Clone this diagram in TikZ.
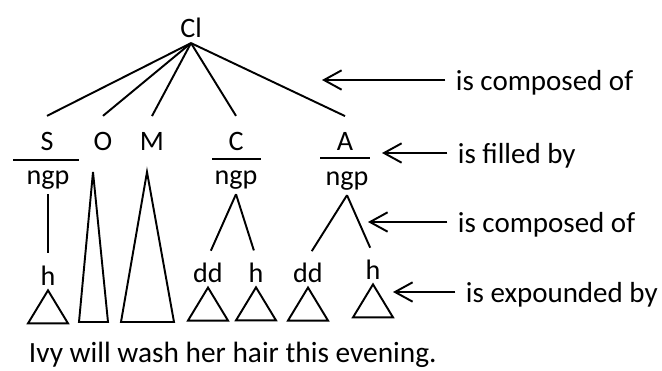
\documentclass[tikz,border=0pt]{standalone}
\usepackage{fontspec}
\setmainfont{Carlito}
\usetikzlibrary{arrows.meta}

% small triangle hanging under a leaf
\newcommand{\leaftri}[1]{\draw (#1.south) -- ++(-20,-33) -- ++(40,0) -- cycle;}

\begin{document}
\begin{tikzpicture}[x=0.02cm, y=0.02cm, line width=1.1pt,
    lab/.style={font=\fontsize{16}{18}\selectfont, anchor=base, inner xsep=0pt},
    func/.style={lab, inner ysep=8.5pt},
    unit/.style={lab, inner ysep=2.5pt},
    leaf/.style={lab, inner ysep=2.5pt},
    note/.style={font=\fontsize{16.5}{19}\selectfont, anchor=west, inner sep=0pt, text depth=0pt},
    arr/.style={-{Straight Barb[length=10pt,width=11pt]}, shorten <=5.5pt},
    sent/.style={font=\fontsize{16.7}{20}\selectfont, anchor=base west, inner sep=0pt}]
  \useasboundingbox (0,0) rectangle (662,370);

  % clause and its functions
  \node[lab, inner sep=2.8pt] (cl) at (191,333) {Cl};
  \node[func] (s) at (47,220) {S};
  \node[func] (o) at (103,220) {O};
  \node[func] (m) at (152,220) {M};
  \node[func] (c) at (236,220) {C};
  \node[func] (a) at (345,220) {A};
  \foreach \f in {s,o,m,c,a}
    \draw (cl.south) -- (\f.north);

  % fillers
  \draw (13,210) -- (79,210);
  \draw (212,211) -- (261,211);
  \draw (320,212) -- (370,212);
  \node[unit] (sngp) at (48,186) {ngp};
  \node[unit] (cngp) at (236,186) {ngp};
  \node[unit] (angp) at (347,185) {ngp};

  % heads and determiners
  \node[leaf] (sh) at (48,85) {h};
  \node[leaf] (cdd) at (208,88) {dd};
  \node[leaf] (ch) at (256,88) {h};
  \node[leaf] (add) at (308,88) {dd};
  \node[leaf] (ah) at (373,91) {h};
  \draw[shorten >=4pt] (sngp.south) -- (sh.north);
  \draw[shorten >=4pt] (cngp.south) -- (cdd.north);
  \draw[shorten >=4pt] (cngp.south) -- (ch.north);
  \draw[shorten >=4pt] (angp.south) -- (add.north);
  \draw[shorten >=4pt] (angp.south) -- (ah.north);

  % words
  \draw (93,198) -- (79,48) -- (108,48) -- cycle;
  \draw (147,198) -- (121,48) -- (174,48) -- cycle;
  \foreach \l in {sh,cdd,ch,add,ah}
    {\leaftri{\l}}

  \node[sent] (ex) at (28,8) {Ivy will wash her hair this evening.};

  % relations
  \coordinate (t1) at (322,290);
  \coordinate (t2) at (382,217);
  \coordinate (t3) at (368,148);
  \coordinate (t4) at (393,78);
  \node[note] (comp1) at (455,290) {is composed of};
  \node[note] (fill) at (457,217) {is filled by};
  \node[note] (comp2) at (457,148) {is composed of};
  \node[note] (expo) at (465,78) {is expounded by};
  \draw[arr] (comp1) -- (t1);
  \draw[arr] (fill) -- (t2);
  \draw[arr] (comp2) -- (t3);
  \draw[arr] (expo) -- (t4);
\end{tikzpicture}
\end{document}
